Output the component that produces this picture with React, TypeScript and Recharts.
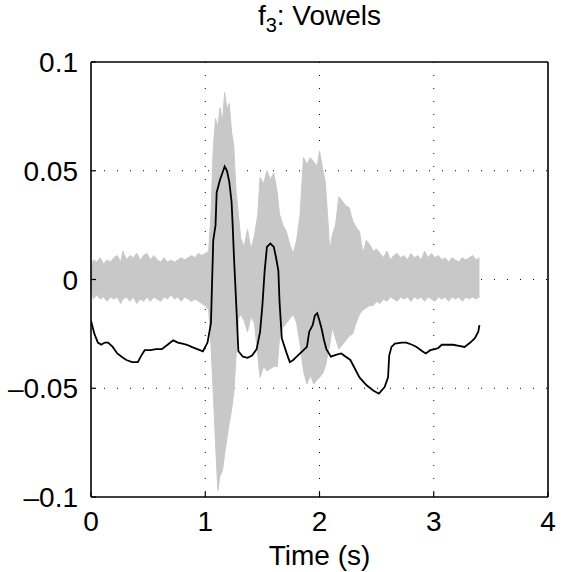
import React from "react";
import { ComposedChart, Area, Line, XAxis, YAxis, CartesianGrid } from "recharts";

// Gray waveform envelope (time in s, lower / upper amplitude)
const waveT = [0.0,0.02,0.05,0.08,0.11,0.14,0.17,0.2,0.23,0.26,0.28,0.31,0.34,0.37,0.4,0.43,0.46,0.49,0.52,0.55,0.58,0.61,0.64,0.67,0.7,0.73,0.76,0.79,0.82,0.85,0.88,0.91,0.94,0.97,1.0,1.03,1.05,1.07,1.09,1.11,1.13,1.15,1.17,1.19,1.21,1.23,1.25,1.27,1.29,1.31,1.34,1.37,1.4,1.43,1.46,1.48,1.51,1.54,1.57,1.6,1.63,1.65,1.68,1.71,1.74,1.77,1.8,1.83,1.86,1.89,1.92,1.95,1.98,2.0,2.03,2.05,2.07,2.09,2.11,2.14,2.17,2.2,2.23,2.26,2.29,2.32,2.35,2.38,2.41,2.44,2.47,2.5,2.53,2.56,2.59,2.62,2.65,2.68,2.71,2.74,2.77,2.8,2.83,2.86,2.89,2.92,2.95,2.98,3.01,3.04,3.07,3.1,3.13,3.16,3.19,3.22,3.25,3.28,3.31,3.34,3.37,3.4];
const waveHi = [0.006,0.009,0.008,0.01,0.007,0.009,0.008,0.01,0.011,0.008,0.013,0.009,0.011,0.01,0.012,0.009,0.011,0.012,0.009,0.011,0.009,0.008,0.01,0.008,0.009,0.008,0.009,0.01,0.009,0.01,0.011,0.01,0.012,0.011,0.012,0.013,0.03,0.06,0.074,0.07,0.079,0.072,0.086,0.078,0.081,0.068,0.061,0.04,0.03,0.019,0.015,0.023,0.014,0.02,0.03,0.047,0.044,0.05,0.046,0.049,0.04,0.03,0.025,0.022,0.016,0.012,0.018,0.03,0.056,0.053,0.056,0.054,0.052,0.059,0.05,0.045,0.03,0.013,0.02,0.025,0.038,0.036,0.034,0.033,0.027,0.024,0.022,0.012,0.018,0.016,0.013,0.014,0.012,0.01,0.013,0.009,0.011,0.012,0.01,0.011,0.009,0.012,0.01,0.011,0.009,0.013,0.01,0.012,0.01,0.011,0.009,0.01,0.008,0.01,0.009,0.008,0.01,0.009,0.01,0.011,0.009,0.01];
const waveLo = [-0.004,-0.009,-0.007,-0.009,-0.008,-0.01,-0.008,-0.009,-0.008,-0.011,-0.009,-0.008,-0.01,-0.008,-0.011,-0.009,-0.01,-0.008,-0.01,-0.008,-0.009,-0.01,-0.008,-0.009,-0.007,-0.009,-0.008,-0.01,-0.008,-0.009,-0.01,-0.009,-0.01,-0.011,-0.012,-0.014,-0.03,-0.052,-0.075,-0.097,-0.09,-0.088,-0.08,-0.073,-0.066,-0.06,-0.052,-0.035,-0.018,-0.016,-0.019,-0.024,-0.017,-0.02,-0.035,-0.045,-0.04,-0.042,-0.041,-0.04,-0.04,-0.027,-0.022,-0.02,-0.018,-0.016,-0.02,-0.03,-0.042,-0.048,-0.044,-0.048,-0.046,-0.045,-0.043,-0.04,-0.035,-0.03,-0.022,-0.027,-0.032,-0.03,-0.028,-0.026,-0.025,-0.02,-0.016,-0.014,-0.013,-0.012,-0.012,-0.01,-0.011,-0.009,-0.01,-0.008,-0.009,-0.01,-0.008,-0.009,-0.008,-0.01,-0.008,-0.009,-0.008,-0.01,-0.008,-0.009,-0.01,-0.008,-0.009,-0.008,-0.01,-0.008,-0.009,-0.008,-0.01,-0.008,-0.009,-0.008,-0.009,-0.008];

// Black feature curve
const featT = [0.0,0.03,0.06,0.09,0.12,0.15,0.19,0.23,0.28,0.31,0.36,0.41,0.44,0.47,0.52,0.57,0.62,0.67,0.72,0.76,0.8,0.84,0.88,0.93,0.98,1.02,1.05,1.07,1.09,1.1,1.13,1.15,1.17,1.19,1.21,1.23,1.24,1.25,1.27,1.29,1.33,1.37,1.41,1.45,1.48,1.5,1.52,1.54,1.57,1.6,1.62,1.64,1.65,1.67,1.71,1.74,1.77,1.8,1.86,1.89,1.91,1.94,1.96,1.98,2.0,2.02,2.04,2.06,2.1,2.15,2.19,2.23,2.27,2.3,2.35,2.41,2.47,2.52,2.57,2.6,2.61,2.63,2.66,2.72,2.76,2.81,2.85,2.9,2.93,2.97,3.01,3.04,3.07,3.12,3.17,3.22,3.27,3.32,3.36,3.39,3.4];
const featV = [-0.019,-0.025,-0.029,-0.03,-0.029,-0.029,-0.031,-0.034,-0.036,-0.037,-0.038,-0.038,-0.035,-0.0325,-0.0325,-0.032,-0.032,-0.03,-0.028,-0.029,-0.0295,-0.03,-0.031,-0.032,-0.033,-0.029,-0.02,0.018,0.025,0.04,0.046,0.049,0.052,0.05,0.045,0.036,0.025,0.012,-0.01,-0.033,-0.0355,-0.036,-0.035,-0.032,-0.024,-0.012,0.004,0.015,0.0165,0.015,0.01,0.004,-0.01,-0.027,-0.0335,-0.038,-0.037,-0.0355,-0.0325,-0.031,-0.024,-0.021,-0.0165,-0.0155,-0.019,-0.023,-0.028,-0.032,-0.0355,-0.0345,-0.034,-0.0355,-0.037,-0.04,-0.045,-0.0485,-0.051,-0.0525,-0.0495,-0.045,-0.035,-0.031,-0.0295,-0.029,-0.029,-0.03,-0.031,-0.033,-0.034,-0.0325,-0.032,-0.0315,-0.03,-0.03,-0.03,-0.0305,-0.031,-0.029,-0.027,-0.024,-0.021];

const xTicks = [0, 1, 2, 3, 4];
const yTicks = [-0.1, -0.05, 0, 0.05, 0.1];
const xTickLabels = ["0", "1", "2", "3", "4"];
const yTickLabels = ["\u20130.1", "\u20130.05", "0", "0.05", "0.1"];

const waveData = waveT.map((t, i) => ({ t, range: [waveLo[i], waveHi[i]] }));
const featData = featT.map((t, i) => ({ t, v: featV[i] }));

const FONT = "'Liberation Sans', Arial, Helvetica, sans-serif";
const FS = 28;
const TL = 5;

const BottomTick = (p: any) => {
  const i = xTicks.indexOf(p.payload.value);
  return (
    <g>
      <line x1={p.x} x2={p.x} y1={p.y} y2={p.y - TL} stroke="#000" strokeWidth={1.2} />
      <text x={p.x} y={p.y + 34} textAnchor="middle" fontSize={FS} fontFamily={FONT} fill="#000">
        {xTickLabels[i]}
      </text>
    </g>
  );
};
const TopTick = (p: any) => (
  <line x1={p.x} x2={p.x} y1={p.y} y2={p.y + TL} stroke="#000" strokeWidth={1.2} />
);
const LeftTick = (p: any) => {
  const i = yTicks.indexOf(p.payload.value);
  return (
    <g>
      <line x1={p.x} x2={p.x + TL} y1={p.y} y2={p.y} stroke="#000" strokeWidth={1.2} />
      <text x={p.x - 13} y={p.y + 10} textAnchor="end" fontSize={FS} fontFamily={FONT} fill="#000">
        {yTickLabels[i]}
      </text>
    </g>
  );
};
const RightTick = (p: any) => (
  <line x1={p.x} x2={p.x - TL} y1={p.y} y2={p.y} stroke="#000" strokeWidth={1.2} />
);

const axisLine = { stroke: "#000", strokeWidth: 1.6 };

export default function App() {
  return (
    <div style={{ position: "absolute", left: 0, top: 0, width: 563, height: 572, background: "#fff" }}>
      <svg width={563} height={44} style={{ position: "absolute", left: 0, top: 0 }}>
        <text x={319.5} y={25} textAnchor="middle" fontSize={FS} fontFamily={FONT} fill="#000">
          f
          <tspan dy={7} fontSize={20}>3</tspan>
          <tspan dy={-7}>: Vowels</tspan>
        </text>
      </svg>
      <ComposedChart width={563} height={572} margin={{ top: 61, right: 14, left: 0, bottom: 0 }}>
        <CartesianGrid
          stroke="#000"
          strokeDasharray="1 12"
          strokeWidth={1}
          verticalPoints={[205.25, 319.5, 433.75]}
          horizontalPoints={[170.75, 279.5, 388.25]}
        />
        <XAxis
          xAxisId={0}
          dataKey="t"
          type="number"
          domain={[0, 4]}
          ticks={xTicks}
          allowDataOverflow
          height={75}
          tickSize={0}
          tickMargin={0}
          tick={BottomTick}
          axisLine={axisLine}
          interval={0}
        />
        <XAxis
          xAxisId="top"
          orientation="top"
          dataKey="t"
          type="number"
          domain={[0, 4]}
          ticks={[1, 2, 3]}
          height={1}
          tickSize={0}
          tickMargin={0}
          tick={TopTick}
          axisLine={axisLine}
          interval={0}
        />
        <YAxis
          yAxisId={0}
          type="number"
          domain={[-0.1, 0.1]}
          ticks={yTicks}
          allowDataOverflow
          width={91}
          tickSize={0}
          tickMargin={0}
          tick={LeftTick}
          axisLine={axisLine}
          interval={0}
        />
        <YAxis
          yAxisId="right"
          orientation="right"
          type="number"
          domain={[-0.1, 0.1]}
          ticks={[-0.05, 0, 0.05]}
          width={1}
          tickSize={0}
          tickMargin={0}
          tick={RightTick}
          axisLine={axisLine}
          interval={0}
        />
        <Area
          data={waveData}
          dataKey="range"
          type="linear"
          stroke="#c8c8c8"
          strokeWidth={1}
          fill="#c8c8c8"
          fillOpacity={1}
          isAnimationActive={false}
          dot={false}
          activeDot={false}
        />
        <Line
          data={featData}
          dataKey="v"
          type="linear"
          stroke="#000"
          strokeWidth={1.8}
          dot={false}
          activeDot={false}
          isAnimationActive={false}
        />
      </ComposedChart>
      <svg width={563} height={40} style={{ position: "absolute", left: 0, top: 532 }}>
        <text x={319.5} y={33} textAnchor="middle" fontSize={FS} fontFamily={FONT} fill="#000">
          Time (s)
        </text>
      </svg>
    </div>
  );
}
